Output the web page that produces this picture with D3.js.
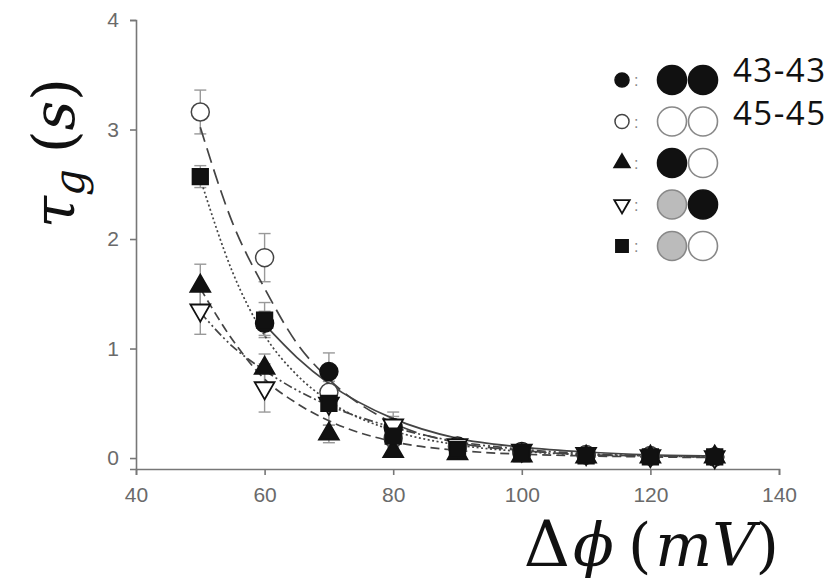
<!DOCTYPE html>
<html>
<head>
<meta charset="utf-8">
<script src="https://cdn.jsdelivr.net/npm/d3@7"></script>
<style>
  body { margin: 0; background: #fff; }
  svg { display: block; }
</style>
</head>
<body>
<svg></svg>
<script>
/* tau_g vs delta phi */
var w = 837, h = 580;

var svg = d3.select("svg")
            .attr("width", w)
            .attr("height", h);

// measured points
var volts = [50, 60, 70, 80, 90, 100, 110, 120, 130];
var tau_4343 = [null, 1.23, 0.79, 0.28, 0.11, 0.06, 0.03, 0.02, 0.01];
var tau_4545 = [3.16, 1.83, 0.60, 0.18, 0.10, 0.05, 0.03, 0.02, 0.01];
var tau_up   = [1.57, 0.82, 0.22, 0.06, 0.04, 0.02, 0.01, 0.01, 0.01];
var tau_down = [1.35, 0.64, 0.50, 0.30, 0.12, 0.07, 0.04, 0.02, 0.01];
var tau_sq   = [2.57, 1.26, 0.50, 0.20, 0.08, 0.04, 0.02, 0.01, 0.01];

var err_4343 = [0, 0.11, 0.17, 0.14, 0.04, 0.02, 0.01, 0.01, 0.01];
var err_4545 = [0.20, 0.22, 0.10, 0.08, 0.03, 0.02, 0.01, 0.01, 0.01];
var err_up   = [0.20, 0.13, 0.08, 0.05, 0.02, 0.01, 0.01, 0.01, 0.01];
var err_down = [0.22, 0.22, 0.20, 0.08, 0.04, 0.02, 0.01, 0.01, 0.01];
var err_sq   = [0.10, 0.16, 0.06, 0.05, 0.02, 0.01, 0.01, 0.01, 0.01];

// fitted curves
var fit_x    = [50, 55, 60, 65, 70, 80, 90, 100, 110, 120, 130];
var fit_4343 = [null, null, 1.22, 0.92, 0.68, 0.36, 0.18, 0.10, 0.055, 0.03, 0.02];
var fit_4545 = [3.02, 2.15, 1.55, 1.05, 0.72, 0.32, 0.14, 0.07, 0.03, 0.02, 0.01];
var fit_up   = [1.55, 1.08, 0.72, 0.50, 0.34, 0.15, 0.07, 0.035, 0.02, 0.01, 0.005];
var fit_down = [1.33, 1.02, 0.80, 0.62, 0.48, 0.28, 0.15, 0.08, 0.04, 0.02, 0.01];
var fit_sq   = [2.55, 1.70, 1.12, 0.76, 0.52, 0.25, 0.12, 0.06, 0.03, 0.02, 0.01];

var x_ticks = [40, 60, 80, 100, 120, 140];
var y_ticks = [0, 1, 2, 3, 4];

// legend
var legend_shapes = ["circle", "ocircle", "up", "down", "square"];
var legend_left   = ["#111", "#fff", "#111", "#bbb", "#bbb"];
var legend_right  = ["#111", "#fff", "#fff", "#111", "#fff"];
var legend_labels = ["43-43", "45-45", "", "", ""];

var SANS = "'Liberation Sans', Arial, sans-serif";
var SERIF = "'DejaVu Serif', 'Liberation Serif', serif";

var x = d3.scaleLinear().domain([40, 140]).range([136, 779]);
var y = d3.scaleLinear().domain([-0.1, 4]).range([469, 20]);

// axes
var xAxis = svg.append("g")
               .attr("transform", "translate(0,469)")
               .call(d3.axisBottom(x).tickValues(x_ticks).tickFormat(d3.format("d"))
                       .tickSizeOuter(0).tickSize(6).tickPadding(12));
var yAxis = svg.append("g")
               .attr("transform", "translate(136,0)")
               .call(d3.axisLeft(y).tickValues(y_ticks).tickFormat(d3.format("d"))
                       .tickSizeOuter(0).tickSize(6).tickPadding(11));

[xAxis, yAxis].forEach(function(g) {
  g.attr("font-family", SANS).attr("font-size", 21);
  g.selectAll("path, line").attr("stroke", "#777").attr("stroke-width", 1.6);
  g.selectAll("text").attr("fill", "#6a6a6a");
});

// series setup
var series = [
  {vals: tau_4343, err: err_4343, fit: fit_4343, shape: "circle",  dash: null},
  {vals: tau_4545, err: err_4545, fit: fit_4545, shape: "ocircle", dash: "15,7"},
  {vals: tau_up,   err: err_up,   fit: fit_up,   shape: "up",      dash: "9,5"},
  {vals: tau_down, err: err_down, fit: fit_down, shape: "down",    dash: "9,3,2,3,2,3"},
  {vals: tau_sq,   err: err_sq,   fit: fit_sq,   shape: "square",  dash: "2,2.5"}
];

// error bars
var ebars = svg.append("g").attr("class", "errorbars");
series.forEach(function(s) {
  volts.forEach(function(v, i) {
    if (s.vals[i] == null || s.err[i] < 0.03) return;
    var cx = x(v), y1 = y(s.vals[i] + s.err[i]), y2 = y(s.vals[i] - s.err[i]);
    ebars.append("line").attr("x1", cx).attr("x2", cx).attr("y1", y1).attr("y2", y2);
    ebars.append("line").attr("x1", cx - 6).attr("x2", cx + 6).attr("y1", y1).attr("y2", y1);
    ebars.append("line").attr("x1", cx - 6).attr("x2", cx + 6).attr("y1", y2).attr("y2", y2);
  });
});
ebars.selectAll("line").attr("stroke", "#999").attr("stroke-width", 1.4);

// fit curves
var line = d3.line()
             .defined(function(d) { return d[1] != null; })
             .x(function(d) { return x(d[0]); })
             .y(function(d) { return y(d[1]); })
             .curve(d3.curveMonotoneX);

svg.append("g")
   .attr("class", "fits")
   .selectAll("path")
   .data(series)
   .enter()
   .append("path")
   .attr("d", function(s) { return line(fit_x.map(function(v, i) { return [v, s.fit[i]]; })); })
   .attr("fill", "none")
   .attr("stroke", "#444")
   .attr("stroke-width", 1.7)
   .attr("stroke-dasharray", function(s) { return s.dash; });

// markers
function drawMarker(g, shape, cx, cy, scale) {
  if (shape == "circle" || shape == "ocircle") {
    g.append("circle")
     .attr("cx", cx).attr("cy", cy).attr("r", 9 * scale)
     .attr("fill", shape == "circle" ? "#111" : "#fff")
     .attr("stroke", shape == "circle" ? "#111" : "#444")
     .attr("stroke-width", 1.5);
  } else {
    var type = shape == "square" ? d3.symbolSquare : d3.symbolTriangle;
    var size = shape == "square" ? 240 : 170;
    g.append("path")
     .attr("d", d3.symbol().type(type).size(size * scale * scale)())
     .attr("transform", "translate(" + cx + "," + cy + ")" + (shape == "down" ? " rotate(180)" : ""))
     .attr("fill", shape == "down" ? "#fff" : "#111")
     .attr("stroke", "#111")
     .attr("stroke-width", 1.8);
  }
}

var marks = svg.append("g").attr("class", "markers");
series.forEach(function(s) {
  volts.forEach(function(v, i) {
    if (s.vals[i] == null) return;
    drawMarker(marks, s.shape, x(v), y(s.vals[i]), 1);
  });
});

// legend
var legend = svg.append("g").attr("class", "legend");
var rowY = d3.scalePoint().domain(d3.range(legend_shapes.length)).range([80, 246]);
legend_shapes.forEach(function(shape, i) {
  var ry = rowY(i);
  drawMarker(legend, shape, 622, ry, 0.78);
  legend.append("text")
        .attr("x", 634).attr("y", ry + 6)
        .attr("fill", "#888")
        .attr("font-family", SANS)
        .attr("font-size", 16)
        .text(":");
  [[672, legend_left[i]], [703, legend_right[i]]].forEach(function(c) {
    legend.append("circle")
          .attr("cx", c[0]).attr("cy", ry).attr("r", 14.5)
          .attr("fill", c[1])
          .attr("stroke", c[1] == "#111" ? "#111" : "#888")
          .attr("stroke-width", 1.6);
  });
  if (legend_labels[i])
    legend.append("text")
          .attr("x", 733).attr("y", ry + 2 + i)
          .attr("fill", "#111")
          .attr("font-family", "'Open Sans', sans-serif")
          .attr("font-size", 33)
          .attr("letter-spacing", 1.5)
          .text(legend_labels[i]);
});

// axis titles
var ytitle = svg.append("text")
                .attr("transform", "translate(74,153) rotate(-90)")
                .attr("text-anchor", "middle")
                .attr("fill", "#111")
                .attr("font-family", SERIF)
                .attr("font-size", 58);
ytitle.append("tspan").attr("font-style", "italic").text("τ");
ytitle.append("tspan").attr("font-style", "italic").attr("font-size", 42).attr("dy", 10).text("g");
ytitle.append("tspan").attr("dy", -10).attr("dx", 16).text("(");
ytitle.append("tspan").attr("font-style", "italic").text("s");
ytitle.append("tspan").text(")");

var xtitle = svg.append("text")
                .attr("x", 779).attr("y", 566)
                .attr("text-anchor", "end")
                .attr("fill", "#111")
                .attr("font-family", SERIF)
                .attr("font-size", 60);
xtitle.append("tspan").attr("font-size", 64).text("Δ");
xtitle.append("tspan").attr("font-style", "italic").attr("dx", 3).text("ϕ");
xtitle.append("tspan").attr("dx", 14).text("(");
xtitle.append("tspan").attr("font-style", "italic").attr("dx", 4).text("mV");
xtitle.append("tspan").text(")");
</script>
</body>
</html>
